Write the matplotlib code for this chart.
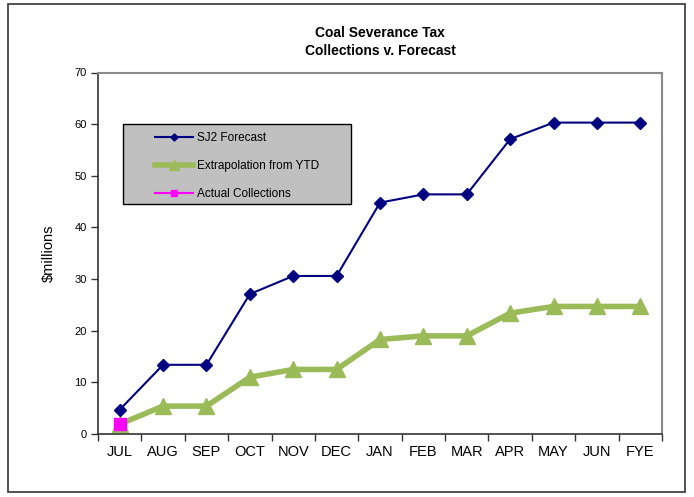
import matplotlib
matplotlib.use("Agg")
import matplotlib.pyplot as plt
from matplotlib.patches import Rectangle

plt.rcParams['font.family'] = ['Liberation Sans', 'DejaVu Sans']

months = ["JUL", "AUG", "SEP", "OCT", "NOV", "DEC", "JAN", "FEB", "MAR", "APR", "MAY", "JUN", "FYE"]
sj2_forecast = [4.7, 13.4, 13.4, 27.1, 30.6, 30.6, 44.8, 46.4, 46.4, 57.1, 60.3, 60.3, 60.3]
extrapolation = [1.9, 5.4, 5.4, 11.0, 12.5, 12.5, 18.3, 19.0, 19.0, 23.4, 24.7, 24.7, 24.7]
actual = [1.9]
yticks = [0, 10, 20, 30, 40, 50, 60, 70]

W, H = 694, 497
fig = plt.figure(figsize=(W / 100, H / 100), dpi=100)
fig.patch.set_facecolor("white")

def fx(px):
    return px / W

def fy(py):
    return 1 - py / H

# outer chart border
fig.add_artist(Rectangle((fx(7.5), fy(491.5)), (684.5 - 7.5) / W, (491.5 - 4) / H,
                         transform=fig.transFigure, fill=False, edgecolor="#333333", linewidth=1.2))

ax = fig.add_axes([fx(98), fy(434), (662 - 98) / W, (434 - 72.5) / H])
x = list(range(len(months)))

ax.plot(x, sj2_forecast, color="#000080", linewidth=1.5, marker="D", markersize=6,
        label="SJ2 Forecast", zorder=3)
ax.plot(x, extrapolation, color="#9BBB59", linewidth=4, marker="^", markersize=11,
        label="Extrapolation from YTD", zorder=2)
ax.plot(x[:len(actual)], actual, color="#FF00FF", linewidth=1.5, marker="s", markersize=8,
        label="Actual Collections", zorder=4)

ax.set_xlim(-0.5, len(months) - 0.5)
ax.set_ylim(0, 70)
ax.set_yticks(yticks)
ax.set_yticklabels([str(v) for v in yticks], fontsize=8)
ax.set_xticks(x)
ax.set_xticklabels(months, fontsize=10.5)
ax.set_xticks([i - 0.5 for i in range(len(months) + 1)], minor=True)
ax.tick_params(axis="x", which="major", length=0, pad=8)
ax.tick_params(axis="x", which="minor", length=5, width=1, color="#333333")
ax.tick_params(axis="y", length=5, width=1, color="#333333", pad=3)

ax.spines["left"].set_color("#333333")
ax.spines["bottom"].set_color("#333333")
ax.spines["left"].set_linewidth(1.2)
ax.spines["bottom"].set_linewidth(1.2)
ax.spines["top"].set_color("#8a8a8a")
ax.spines["right"].set_color("#8a8a8a")
ax.spines["top"].set_linewidth(1.5)
ax.spines["right"].set_linewidth(1.5)

ax.set_ylabel("$millions", fontsize=10.5)
ax.yaxis.set_label_coords((55.5 - 98) / (662 - 98), 0.5)

fig.text(fx(380), fy(33), "Coal Severance Tax", ha="center", va="center",
         fontsize=10, fontweight="bold")
fig.text(fx(380), fy(51), "Collections v. Forecast", ha="center", va="center",
         fontsize=10, fontweight="bold")

# legend box
fig.add_artist(Rectangle((fx(123), fy(204)), (351 - 123) / W, (204 - 124) / H,
                         transform=fig.transFigure, facecolor="#C0C0C0", edgecolor="black",
                         linewidth=1, zorder=5))
leg = fig.legend(handles=ax.get_lines(), loc="upper left", bbox_to_anchor=(fx(155), fy(132)),
                 bbox_transform=fig.transFigure, fontsize=8.5, frameon=False, borderpad=0,
                 borderaxespad=0, handlelength=3.2, handletextpad=0.35, labelspacing=1.35,
                 markerscale=0.6)
leg.set_zorder(6)

fig.savefig("out.png", dpi=100)
